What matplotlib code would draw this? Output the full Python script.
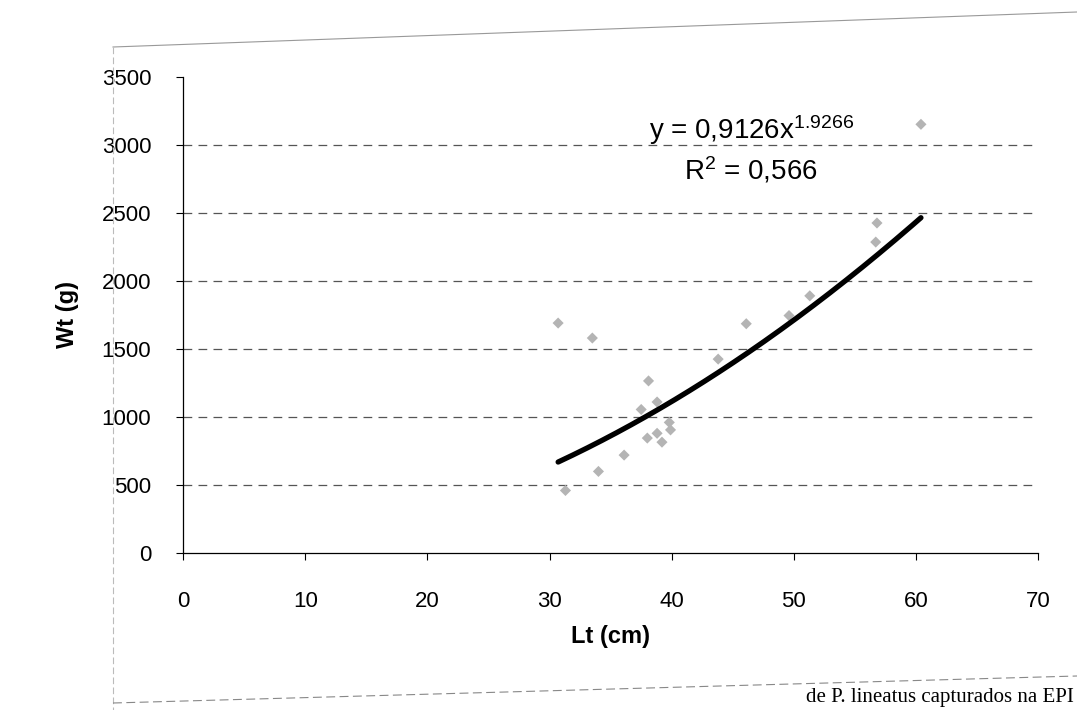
import matplotlib
matplotlib.use("Agg")
import matplotlib.pyplot as plt
import numpy as np
from matplotlib.lines import Line2D

plt.rcParams['font.family'] = ['Liberation Sans', 'DejaVu Sans']
plt.rcParams['mathtext.fontset'] = 'custom'
plt.rcParams['mathtext.rm'] = 'Liberation Sans'
plt.rcParams['mathtext.it'] = 'Liberation Sans'

# data
lt_cm = [30.7, 33.5, 31.3, 34.0, 36.1, 37.5, 38.1, 38.8, 38.0, 38.8,
         39.2, 39.8, 39.9, 43.8, 46.1, 49.6, 51.3, 56.7, 56.8, 60.4]
wt_g = [1690, 1580, 460, 600, 720, 1055, 1265, 1110, 845, 880,
        815, 960, 905, 1425, 1685, 1745, 1890, 2285, 2425, 3150]
coef_a = 0.9126
coef_b = 1.9266
r2 = 0.566
x_ticks = [0, 10, 20, 30, 40, 50, 60, 70]
y_ticks = [0, 500, 1000, 1500, 2000, 2500, 3000, 3500]

fig = plt.figure(figsize=(10.77, 7.10), dpi=100)
ax = fig.add_axes([0.170, 0.221, 0.794, 0.671])

ax.set_xlim(0, 70)
ax.set_ylim(0, 3500)
for g in y_ticks[1:-1]:
    ax.axhline(g, color='#555555', lw=0.9, ls=(0, (7, 5)), zorder=1)

ax.scatter(lt_cm, wt_g, marker='D', s=32, color='#b4b4b4', edgecolors='none', zorder=3)

xs = np.linspace(min(lt_cm), max(lt_cm), 200)
ax.plot(xs, coef_a * xs ** coef_b, color='black', lw=3.8, solid_capstyle='round', zorder=4)

ax.set_xticks(x_ticks)
ax.set_yticks(y_ticks)
ax.tick_params(axis='both', direction='out', length=5, width=0.8, labelsize=16)
ax.tick_params(axis='x', pad=22)
ax.tick_params(axis='y', pad=18)
for s in ['top', 'right']:
    ax.spines[s].set_visible(False)
for s in ['left', 'bottom']:
    ax.spines[s].set_linewidth(0.9)

ax.set_xlabel('Lt (cm)', fontsize=17, fontweight='bold', labelpad=10)
ax.set_ylabel('Wt (g)', fontsize=17, fontweight='bold', labelpad=16)

ax.text(46.5, 3040, r'y = 0,9126x$^{\mathregular{1.9266}}$', fontsize=20, ha='center', va='baseline')
ax.text(46.5, 2745, r'R$^{\mathregular{2}}$ = 0,566', fontsize=20, ha='center', va='baseline')

# chart-area border (scan)
fig.add_artist(Line2D([113/1077, 1.0], [1-47/710, 1-12/710], color='#999999', lw=0.8))
fig.add_artist(Line2D([113/1077, 113/1077], [1-47/710, 0.0], color='#bbbbbb', lw=0.8, ls=(0, (6, 3))))
fig.add_artist(Line2D([113/1077, 1.0], [1-703/710, 1-676/710], color='#888888', lw=0.8, ls=(0, (8, 4))))

fig.text(0.997, 0.004, 'de P. lineatus capturados na EPI', fontsize=15, ha='right', va='bottom',
         family=['Liberation Serif', 'DejaVu Serif'])

fig.savefig('out.png', dpi=100, facecolor='white')
